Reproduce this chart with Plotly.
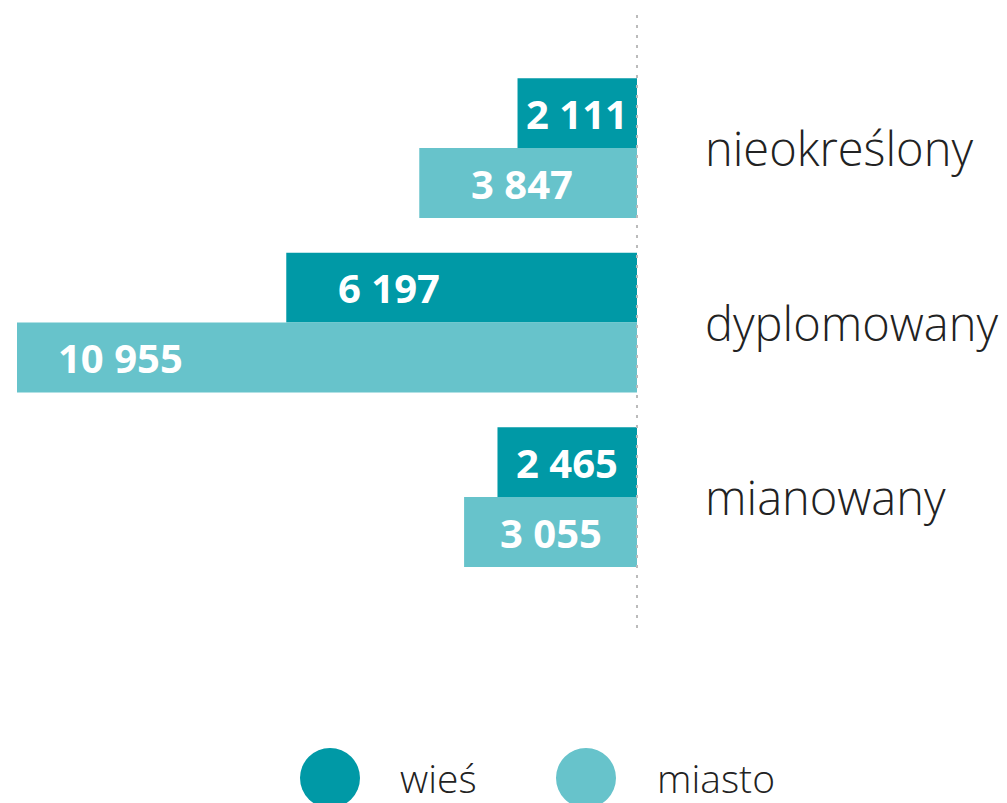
import plotly.graph_objects as go

categories = ["nieokreślony", "dyplomowany", "mianowany"]
series_names = ["wieś", "miasto"]
wies = [2111, 6197, 2465]
miasto = [3847, 10955, 3055]
colors = ["#0099A6", "#67C3CB"]

def fmt(v):
    return f"{v:,}".replace(",", " ")

W, H = 999, 795

fig = go.Figure()
for name, vals, col in zip(series_names, [wies, miasto], colors):
    fig.add_trace(go.Bar(
        y=categories, x=[-v for v in vals], orientation="h", name=name,
        marker=dict(color=col, line=dict(width=0)), showlegend=False,
        hoverinfo="skip",
    ))

# value labels inside bars
for ti, vals in enumerate([wies, miasto]):
    for ci, v in enumerate(vals):
        center = min(-v + 1820, -v / 2)
        fig.add_annotation(
            x=center, y=ci + (-0.2 if ti == 0 else 0.2), xref="x", yref="y",
            text=f"<b>{fmt(v)}</b>", showarrow=False, xanchor="center", yanchor="middle",
            font=dict(family="Open Sans", size=40, color="white"),
        )

# category labels
for ci, c in enumerate(categories):
    fig.add_annotation(
        x=1166, y=ci, xref="x", yref="y", text=c, showarrow=False,
        xanchor="left", yanchor="middle",
        font=dict(family="Open Sans", size=47, color="#222222", weight=300),
    )

# zero line (dotted)
fig.add_shape(type="line", xref="x", yref="paper", x0=0, x1=0, y0=0, y1=1,
              line=dict(color="#BBBBBB", width=2, dash="3px,7px"), layer="above")

# custom legend
leg_y = -0.2435
for name, col, cx, tx in zip(series_names, colors, [322, 578], [390, 647]):
    fig.add_shape(type="circle", xref="paper", yref="paper",
                  xsizemode="pixel", ysizemode="pixel",
                  xanchor=cx / W, yanchor=leg_y, x0=-30, x1=30, y0=-30, y1=30,
                  fillcolor=col, line=dict(width=0))
    fig.add_annotation(x=tx / W, y=leg_y, xref="paper", yref="paper", text=name,
                       showarrow=False, xanchor="left", yanchor="middle",
                       font=dict(family="Open Sans", size=39, color="#222222", weight=300))

fig.update_layout(
    width=W, height=H,
    margin=dict(l=0, r=0, t=4, b=175),
    barmode="group", bargap=0.2, bargroupgap=0,
    plot_bgcolor="white", paper_bgcolor="white",
    xaxis=dict(range=[-11114, 6538], visible=False, fixedrange=True),
    yaxis=dict(range=[2.75, -0.78], visible=False, type="category",
               categoryorder="array", categoryarray=categories),
    showlegend=False,
)

fig.write_html("out.html")
